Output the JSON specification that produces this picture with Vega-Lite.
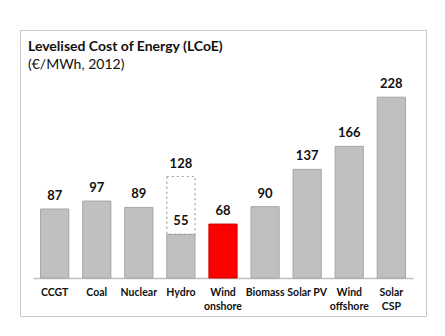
{
  "$schema": "https://vega.github.io/schema/vega-lite/v6.json",
  "width": 406,
  "height": 286,
  "autosize": {"type": "none"},
  "padding": {"left": 20, "top": 30, "right": 19, "bottom": 20},
  "background": "white",
  "title": {
    "text": "Levelised Cost of Energy (LCoE)",
    "subtitle": "(€/MWh, 2012)",
    "anchor": "start",
    "frame": "group",
    "offset": -42,
    "dx": 8,
    "font": "Lato",
    "fontSize": 14,
    "fontWeight": "bold",
    "color": "#111111",
    "subtitleFont": "Lato",
    "subtitleFontSize": 14,
    "subtitleColor": "#111111",
    "subtitlePadding": 4
  },
  "config": {
    "view": {"stroke": "#c8c8c8", "strokeWidth": 1}
  },
  "data": {
    "values": [
      {"tech": "CCGT", "value": 87, "hl": false},
      {"tech": "Coal", "value": 97, "hl": false},
      {"tech": "Nuclear", "value": 89, "hl": false},
      {"tech": "Hydro", "value": 55, "max": 128, "hl": false},
      {"tech": "Wind onshore", "value": 68, "hl": true},
      {"tech": "Biomass", "value": 90, "hl": false},
      {"tech": "Solar PV", "value": 137, "hl": false},
      {"tech": "Wind offshore", "value": 166, "hl": false},
      {"tech": "Solar CSP", "value": 228, "hl": false}
    ]
  },
  "encoding": {
    "x": {
      "field": "tech",
      "type": "nominal",
      "sort": null,
      "scale": {"range": [13, 393], "paddingInner": 0.33, "paddingOuter": 0.18},
      "axis": {
        "title": null,
        "orient": "bottom",
        "offset": -38,
        "ticks": false,
        "domainColor": "#bfbfbf",
        "domainWidth": 1.5,
        "labelAngle": 0,
        "labelFont": "Lato",
        "labelFontWeight": "bold",
        "labelFontSize": 10.5,
        "labelColor": "#111111",
        "labelPadding": 9,
        "labelLineHeight": 14,
        "labelOverlap": false,
        "labelExpr": "indexof(datum.label, 'Wind') == 0 || datum.label == 'Solar CSP' ? split(datum.label, ' ') : datum.label"
      }
    }
  },
  "layer": [
    {
      "mark": {"type": "bar", "strokeWidth": 1},
      "encoding": {
        "y": {
          "field": "value",
          "type": "quantitative",
          "scale": {"domain": [-47.9, 312.7], "nice": false, "zero": false},
          "axis": null
        },
        "y2": {"datum": 0},
        "fill": {"condition": {"test": "datum.hl", "value": "#ff0000"}, "value": "#c0c0c0"},
        "stroke": {"condition": {"test": "datum.hl", "value": "#d00000"}, "value": "#a6a6a6"}
      }
    },
    {
      "transform": [{"filter": "isValid(datum.max)"}],
      "mark": {"type": "bar", "fill": null, "fillOpacity": 0, "stroke": "#a0a0a0", "strokeWidth": 1.2, "strokeDash": [2, 3]},
      "encoding": {
        "y": {"field": "max", "type": "quantitative"},
        "y2": {"field": "value"}
      }
    },
    {
      "mark": {"type": "text", "baseline": "bottom", "dy": -6, "font": "Lato", "fontWeight": "bold", "fontSize": 13, "color": "#111111"},
      "encoding": {
        "y": {"field": "value", "type": "quantitative"},
        "text": {"field": "value", "type": "quantitative"}
      }
    },
    {
      "transform": [{"filter": "isValid(datum.max)"}],
      "mark": {"type": "text", "baseline": "bottom", "dy": -5, "font": "Lato", "fontWeight": "bold", "fontSize": 13, "color": "#111111"},
      "encoding": {
        "y": {"field": "max", "type": "quantitative"},
        "text": {"field": "max", "type": "quantitative"}
      }
    }
  ]
}
